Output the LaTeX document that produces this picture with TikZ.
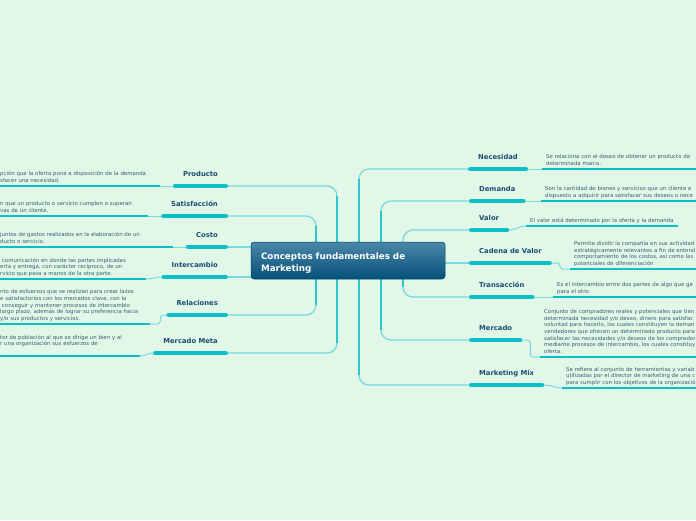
\documentclass[tikz,border=0pt]{standalone}
\usepackage{fontspec}
\setmainfont{DejaVu Sans}
\usetikzlibrary{calc}
\definecolor{mmBg}{HTML}{E1F7E8}
\definecolor{mmTeal}{HTML}{0ABFC6}
\definecolor{mmTrunk}{HTML}{2CC6CB}
\definecolor{mmTwig}{HTML}{7AD9DB}
\definecolor{mmLabel}{HTML}{1B4E72}
\definecolor{mmText}{HTML}{3A5F70}
\definecolor{mmTitleTop}{HTML}{4B87A7}
\definecolor{mmTitleBot}{HTML}{05507A}
\tikzset{
  titleBox/.style={rectangle, rounded corners=3pt, draw=mmTitleBot!85!black,
    line width=0.5pt, top color=mmTitleTop, bottom color=mmTitleBot,
    minimum width=194pt, minimum height=37pt, text width=174pt, align=left,
    text height=10pt, text depth=12pt,
    inner xsep=10pt, font=\fontsize{8.8}{12}\selectfont\bfseries, text=white},
  topic/.style={inner xsep=10pt, inner ysep=0pt, text height=5pt,
    text depth=9.5pt, font=\fontsize{6.8}{8}\selectfont\bfseries, text=mmLabel},
  topicL/.style={topic, anchor=south east},
  topicR/.style={topic, anchor=south west},
  desc/.style={align=left, inner ysep=1.5pt, execute at end node={\strut},
    font=\fontsize{5.4}{6.6}\selectfont, text=mmText},
  descL/.style={desc, anchor=south west, inner xsep=0pt, text width=#1},
  descR/.style={desc, anchor=south west, inner xsep=4pt},
  bar/.style={line width=4.5pt, line cap=round, color=mmTeal,
    shorten <=2.25pt, shorten >=2.25pt},
  rule/.style={line width=2pt, color=mmTeal},
  branch/.style={line width=1.3pt, color=mmTwig, rounded corners=10pt},
  trunk/.style={line width=2.4pt, color=mmTrunk},
  twig/.style={line width=1pt, color=mmTwig, rounded corners=3pt},
}

\begin{document}
\begin{tikzpicture}[x=1pt,y=-1pt]
  \useasboundingbox (0,0) rectangle (696,520);
  \fill[mmBg] (0,0) rectangle (696,520);

  % trunk columns
  \coordinate (l1) at (337,0);
  \coordinate (l2) at (316,0);
  \coordinate (r1) at (359,0);
  \coordinate (r2) at (381,0);
  \coordinate (r3) at (403,0);

  % left topics
  \node[topicL] (producto) at (228,186) {Producto};
  \node[topicL] (satisfaccion) at (228,216) {Satisfacción};
  \node[topicL] (costo) at (228,247) {Costo};
  \node[topicL] (intercambio) at (228,277) {Intercambio};
  \node[topicL] (relaciones) at (228,315) {Relaciones};
  \node[topicL] (mercadometa) at (228,353) {Mercado Meta};

  % right topics
  \node[topicR] (necesidad) at (468,169) {Necesidad};
  \node[topicR] (demanda) at (469,201) {Demanda};
  \node[topicR] (valor) at (469,230) {Valor};
  \node[topicR] (cadena) at (469,263) {Cadena de Valor};
  \node[topicR] (transaccion) at (469,297) {Transacción};
  \node[topicR] (mercado) at (469,340) {Mercado};
  \node[topicR] (mix) at (469,385) {Marketing Mix};

  % branches to the centre
  \draw[branch] (l1 |- 0,242) |- (producto.south east);
  \draw[branch] (l2 |- 0,242) |- (satisfaccion.south east);
  \draw[branch] (251,247) -- (costo.south east);
  \draw[branch] (251,277) -- (intercambio.south east);
  \draw[branch] (l2 |- 0,279) |- (relaciones.south east);
  \draw[branch] (l1 |- 0,279) |- (mercadometa.south east);
  \draw[branch] (r1 |- 0,242) |- (necesidad.south west);
  \draw[branch] (r2 |- 0,242) |- (demanda.south west);
  \draw[branch] (r3 |- 0,242) |- (valor.south west);
  \draw[branch] (445,263) -- (cadena.south west);
  \draw[branch] (r3 |- 0,279) |- (transaccion.south west);
  \draw[branch] (r2 |- 0,279) |- (mercado.south west);
  \draw[branch] (r1 |- 0,279) |- (mix.south west);

  \draw[trunk] (l1 |- 0,242) -- ($(producto.south east -| l1)+(0,10)$);
  \draw[trunk] (l2 |- 0,242) -- ($(satisfaccion.south east -| l2)+(0,10)$);
  \draw[trunk] (l2 |- 0,279) -- ($(relaciones.south east -| l2)+(0,-10)$);
  \draw[trunk] (l1 |- 0,279) -- ($(mercadometa.south east -| l1)+(0,-10)$);
  \draw[trunk] (r1 |- 0,242) -- ($(necesidad.south west -| r1)+(0,10)$);
  \draw[trunk] (r2 |- 0,242) -- ($(demanda.south west -| r2)+(0,10)$);
  \draw[trunk] (r3 |- 0,279) -- ($(transaccion.south west -| r3)+(0,-10)$);
  \draw[trunk] (r2 |- 0,279) -- ($(mercado.south west -| r2)+(0,-10)$);
  \draw[trunk] (r1 |- 0,279) -- ($(mix.south west -| r1)+(0,-10)$);

  % central idea
  \node[titleBox] (root) at (348,260.5)
    {Conceptos fundamentales de\\Marketing};

  \foreach \t in {producto,satisfaccion,costo,intercambio,relaciones,
    mercadometa,necesidad,demanda,valor,cadena,transaccion,mercado,mix}
    \draw[bar] (\t.south west) -- (\t.south east);

  % left notes
  \node[descL=160pt] (dProducto) at (0,186)
    {pción que la oferta pone a disposición de la demanda\\
     sfacer una necesidad.};
  \node[descL=148pt] (dSatisfaccion) at (0,216)
    {n que un producto o servicio cumplen o superan\\
     vas de un cliente.};
  \node[descL=173pt] (dCosto) at (0,247)
    {juntos de gastos realizados en la elaboración de un\\
     ducto o servicio.};
  \node[descL=146pt] (dIntercambio) at (0,279)
    {\ comunicación en donde las partes implicadas\\
     erta y entrega, con carácter recíproco, de un\\
     rvicio que pasa a manos de la otra parte.};
  \node[descL=150pt] (dRelaciones) at (0,324)
    {nto de esfuerzos que se realizan para crear lazos\\
     e satisfactorios con los mercados clave, con la\\
     \ conseguir y mantener procesos de intercambio\\
     largo plazo, además de lograr su preferencia hacia\\
     y/o sus productos y servicios.};
  \node[descL=140pt] (dMercadometa) at (0,356)
    {tor de población al que se dirige un bien y al\\
     r una organización sus esfuerzos de\\ \mbox{}};

  % right notes
  \node[descR, text width=170pt] (dNecesidad) at (542,169)
    {Se relaciona con el deseo de obtener un producto de\\
     determinada marca.};
  \node[descR, text width=170pt] (dDemanda) at (541,201)
    {Son la cantidad de bienes y servicios que un cliente e\\
     dispuesto a adquirir para satisfacer sus deseos o nece};
  \node[descR] (dValor) at (526,226)
    {El valor está determinado por la oferta y la demanda};
  \node[descR, text width=140pt] (dCadena) at (570,269)
    {Permite dividir la compañía en sus actividad\\
     estratégicamente relevantes a fin de entend\\
     comportamiento de los costos, así como las\\
     potenciales de diferenciación};
  \node[descR, text width=160pt] (dTransaccion) at (553,297)
    {Es el intercambio entre dos partes de algo que ge\\
     para el otro.};
  \node[descR, text width=170pt] (dMercado) at (540,357)
    {Conjunto de compradores reales y potenciales que tien\\
     determinada necesidad y/o deseo, dinero para satisfac\\
     voluntad para hacerlo, los cuales constituyen la deman\\
     vendedores que ofrecen un determinado producto para\\
     satisfacer las necesidades y/o deseos de los comprador\\
     mediante procesos de intercambio, los cuales constituy\\
     oferta.};
  \node[descR, text width=150pt] (dMix) at (562,388)
    {Se refiere al conjunto de herramientas y variab\\
     utilizadas por el director de marketing de una c\\
     para cumplir con los objetivos de la organizació};

  \foreach \d in {dProducto,dSatisfaccion,dCosto,dIntercambio,dRelaciones,
    dMercadometa,dNecesidad,dDemanda,dValor,dCadena,dTransaccion,dMercado,dMix}
    \draw[rule] (\d.south west) -- (\d.south east);

  % links from topic to note
  \draw[twig] (producto.south west) -- (dProducto.south east);
  \draw[twig] (satisfaccion.south west) -- (dSatisfaccion.south east);
  \draw[twig] (costo.south west) -- (dCosto.south east);
  \draw[twig] (intercambio.south west) to[out=180, in=0] (dIntercambio.south east);
  \draw[twig] (relaciones.south west) -- ++(-6,0) |- (dRelaciones.south east);
  \draw[twig] (mercadometa.south west) to[out=180, in=0] (dMercadometa.south east);
  \draw[twig] (necesidad.south east) -- (dNecesidad.south west);
  \draw[twig] (demanda.south east) -- (dDemanda.south west);
  \draw[twig] (valor.south east) to[out=0, in=180] (dValor.south west);
  \draw[twig] (cadena.south east) -- ++(8,0) |- (dCadena.south west);
  \draw[twig] (transaccion.south east) -- (dTransaccion.south west);
  \draw[twig] (mercado.south east) -- ++(8,0) |- (dMercado.south west);
  \draw[twig] (mix.south east) to[out=0, in=180] (dMix.south west);
\end{tikzpicture}
\end{document}
